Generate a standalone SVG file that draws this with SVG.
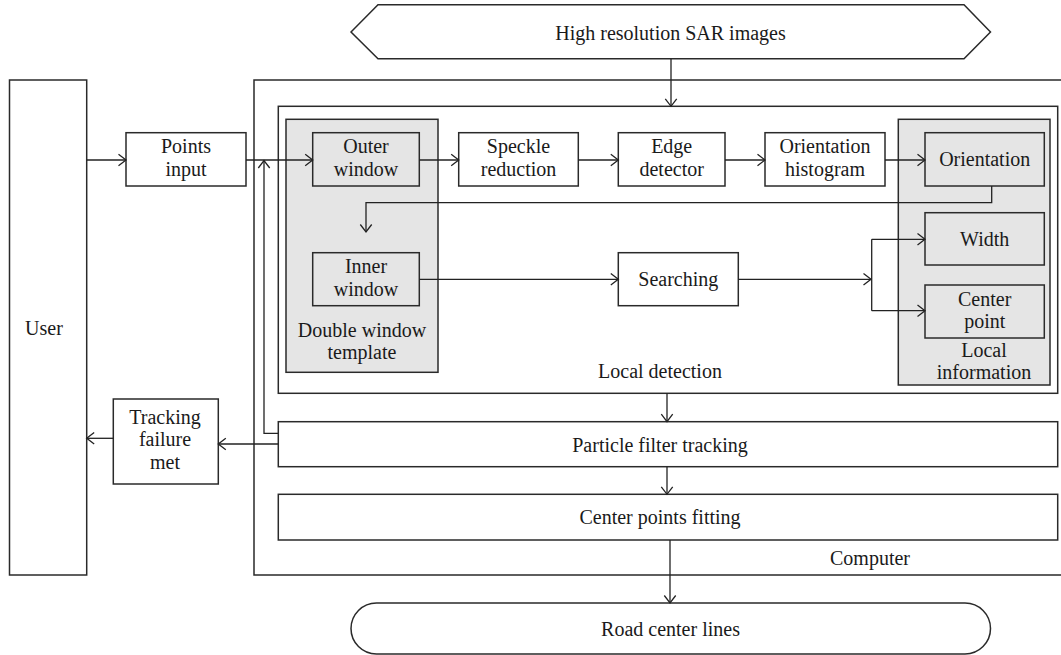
<svg xmlns="http://www.w3.org/2000/svg" width="1061" height="655" viewBox="0 0 1061 655">
<defs>
<marker id="arr" markerUnits="userSpaceOnUse" markerWidth="12" markerHeight="14" refX="9" refY="7" orient="auto">
<path d="M1.5,1.3 L9,7 L1.5,12.7" fill="none" stroke="#222" stroke-width="1.3"/>
</marker>
<style>
.b{fill:#fff;stroke:#2a2a2a;stroke-width:1.5}
.g{fill:#e5e5e5;stroke:#2a2a2a;stroke-width:1.5}
.n{fill:none;stroke:#2a2a2a;stroke-width:1.5}
.c{fill:none;stroke:#222;stroke-width:1.3}
.a{fill:none;stroke:#222;stroke-width:1.3;marker-end:url(#arr)}
text{font-family:"Liberation Serif","Times New Roman",serif;font-size:20px;fill:#1a1a1a;text-anchor:middle}
</style>
</defs>
<rect width="1061" height="655" fill="#fff"/>

<g id="sar">
<polygon class="b" points="351,32 378,4.7 964,4.7 990.5,32 964,58.8 378,58.8"/>
<text x="670.5" y="39.5">High resolution SAR images</text>
</g>

<g id="user">
<rect class="b" x="9.5" y="80" width="77.2" height="495"/>
<text x="44" y="335">User</text>
</g>

<g id="computer">
<path class="n" d="M1062,80 H254 V575 H1062"/>
<text x="870" y="565">Computer</text>
</g>

<g id="local-detection">
<rect class="b" x="278.3" y="106.3" width="779.4" height="287"/>
<text x="660" y="378">Local detection</text>
</g>

<g id="double-window">
<rect class="g" x="286" y="119.3" width="152" height="253"/>
<text x="362" y="336.7">Double window</text>
<text x="362" y="359.1">template</text>
</g>

<g id="local-information">
<rect class="g" x="898.3" y="119.3" width="151.7" height="265.7"/>
<text x="984" y="357">Local</text>
<text x="984" y="379.4">information</text>
</g>

<g id="points-input">
<rect class="b" x="126" y="132.7" width="120" height="53.3"/>
<text x="186" y="153.2">Points</text>
<text x="186" y="175.6">input</text>
</g>

<g id="outer-window">
<rect class="g" x="312.7" y="132.7" width="106.6" height="53.3"/>
<text x="366" y="153.2">Outer</text>
<text x="366" y="175.6">window</text>
</g>

<g id="speckle">
<rect class="b" x="458.7" y="132.7" width="119.6" height="53.3"/>
<text x="518.5" y="153.2">Speckle</text>
<text x="518.5" y="175.6">reduction</text>
</g>

<g id="edge">
<rect class="b" x="618.3" y="132.7" width="106.7" height="53.3"/>
<text x="671.7" y="153.2">Edge</text>
<text x="671.7" y="175.6">detector</text>
</g>

<g id="orientation-histogram">
<rect class="b" x="765" y="132.7" width="120" height="53.3"/>
<text x="825" y="153.2">Orientation</text>
<text x="825" y="175.6">histogram</text>
</g>

<g id="orientation">
<rect class="g" x="925" y="132.7" width="119.3" height="53.3"/>
<text x="984.7" y="166.3">Orientation</text>
</g>

<g id="inner-window">
<rect class="g" x="312.7" y="252.7" width="106.6" height="53"/>
<text x="366" y="273.3">Inner</text>
<text x="366" y="295.7">window</text>
</g>

<g id="searching">
<rect class="b" x="618.3" y="252.7" width="120" height="53"/>
<text x="678.3" y="286">Searching</text>
</g>

<g id="width">
<rect class="g" x="925" y="212.7" width="119.3" height="52.3"/>
<text x="984.7" y="246">Width</text>
</g>

<g id="center-point">
<rect class="g" x="925" y="285" width="119.3" height="53"/>
<text x="984.7" y="305.5">Center</text>
<text x="984.7" y="327.9">point</text>
</g>

<g id="particle">
<rect class="b" x="278.3" y="421.7" width="779.4" height="45"/>
<text x="660" y="451.5">Particle filter tracking</text>
</g>

<g id="tracking-failure">
<rect class="b" x="113.3" y="399" width="105" height="85"/>
<text x="165" y="424">Tracking</text>
<text x="165" y="446.4">failure</text>
<text x="165" y="468.8">met</text>
</g>

<g id="fitting">
<rect class="b" x="278.3" y="494.3" width="779.4" height="45.7"/>
<text x="660" y="524">Center points fitting</text>
</g>

<g id="road">
<rect class="b" x="351" y="603" width="639.5" height="51" rx="25.5" ry="25.5"/>
<text x="670.5" y="636">Road center lines</text>
</g>

<g id="connectors">
<path class="a" d="M86.7,160 H126"/>
<path class="a" d="M246,160 H312.7"/>
<path class="a" d="M278.3,433.3 H264 V160.5"/>
<path class="a" d="M419.3,160 H458.7"/>
<path class="a" d="M578.3,160 H618.3"/>
<path class="a" d="M725,160 H765"/>
<path class="a" d="M885,160 H925"/>
<path class="a" d="M991.7,186 V202.7 H366 V232"/>
<path class="a" d="M419.3,279.3 H618.3"/>
<path class="a" d="M738.3,279.3 H871"/>
<path class="c" d="M871.7,239.3 V310.7"/>
<path class="a" d="M871.7,239.3 H925"/>
<path class="a" d="M871.7,310.7 H925"/>
<path class="a" d="M671,58.8 V106.3"/>
<path class="a" d="M667,393.3 V421.7"/>
<path class="a" d="M667,466.7 V494.3"/>
<path class="a" d="M670,540 V603"/>
<path class="a" d="M278.3,444 H218.3"/>
<path class="a" d="M113.3,438.3 H86.7"/>
</g>
</svg>
